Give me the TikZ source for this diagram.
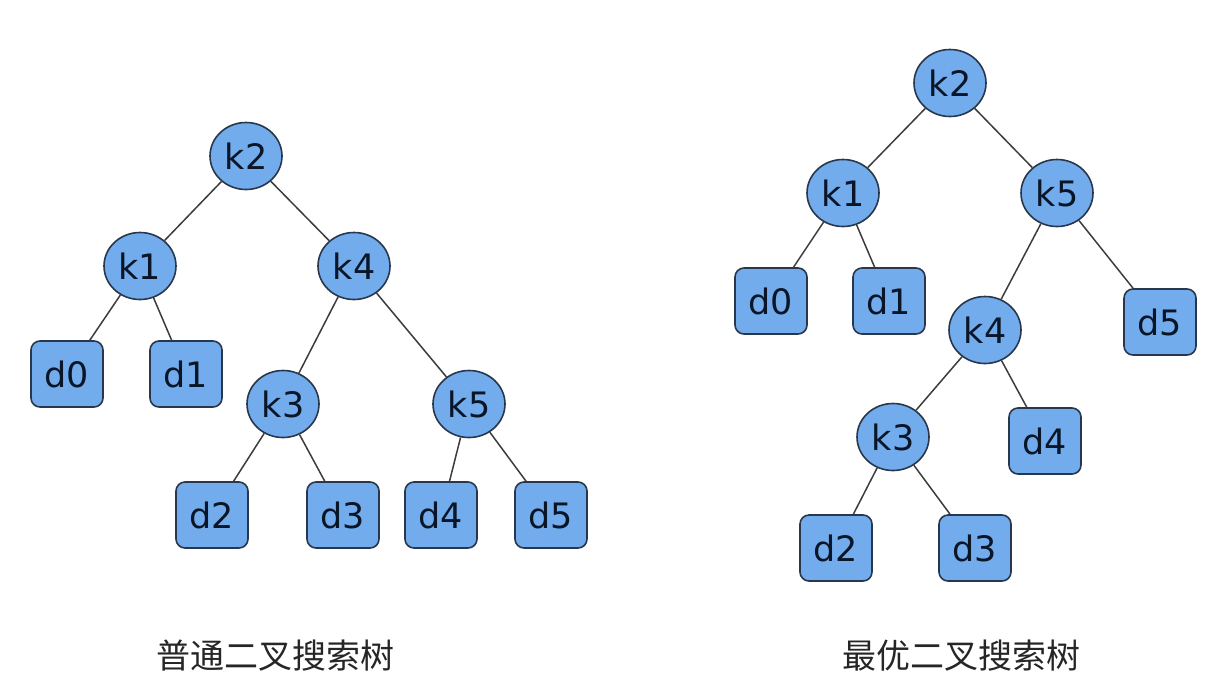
\documentclass[tikz,border=0pt]{standalone}
\usepackage{fontspec}
\setmainfont{DejaVu Sans}
\newfontfamily\cjk{Noto Sans CJK SC}
\usetikzlibrary{shapes.geometric}
\definecolor{nodefill}{RGB}{114,172,236}
\definecolor{nodeedge}{RGB}{40,55,75}
\definecolor{nodetext}{RGB}{10,22,40}
\definecolor{edgecol}{RGB}{60,60,60}
\tikzset{
  keynode/.style={ellipse, draw=nodeedge, fill=nodefill, line width=1.6pt,
    minimum width=72pt, minimum height=67pt, inner sep=0pt,
    text=nodetext, font=\fontsize{35}{40}\selectfont},
  leafnode/.style={rectangle, rounded corners=9pt, draw=nodeedge, fill=nodefill, line width=1.6pt,
    minimum width=72pt, minimum height=66pt, inner sep=0pt,
    text=nodetext, font=\fontsize{35}{40}\selectfont},
  link/.style={draw=edgecol, line width=1.5pt},
  caption/.style={font=\cjk\fontsize{34}{40}\selectfont, text=black!85}
}
\begin{document}
\begin{tikzpicture}[x=1pt,y=-1pt]
\useasboundingbox (0,0) rectangle (1228,681);
% left tree
\node[keynode] (Lk2) at (246,156) {k2};
\node[keynode] (Lk1) at (140,266) {k1};
\node[keynode] (Lk4) at (354,266) {k4};
\node[keynode] (Lk3) at (283,404) {k3};
\node[keynode] (Lk5) at (469,404) {k5};
\node[leafnode] (Ld0) at (67,374) {d0};
\node[leafnode] (Ld1) at (186,374) {d1};
\node[leafnode] (Ld2) at (212,515) {d2};
\node[leafnode] (Ld3) at (343,515) {d3};
\node[leafnode] (Ld4) at (441,515) {d4};
\node[leafnode] (Ld5) at (551,515) {d5};
\draw[link] (Lk2) -- (Lk1);
\draw[link] (Lk2) -- (Lk4);
\draw[link] (Lk1) -- (Ld0);
\draw[link] (Lk1) -- (Ld1);
\draw[link] (Lk4) -- (Lk3);
\draw[link] (Lk4) -- (Lk5);
\draw[link] (Lk3) -- (Ld2);
\draw[link] (Lk3) -- (Ld3);
\draw[link] (Lk5) -- (Ld4);
\draw[link] (Lk5) -- (Ld5);
% right tree
\node[keynode] (Rk2) at (950,83) {k2};
\node[keynode] (Rk1) at (843,193) {k1};
\node[keynode] (Rk5) at (1057,193) {k5};
\node[keynode] (Rk4) at (985,330) {k4};
\node[keynode] (Rk3) at (893,437) {k3};
\node[leafnode] (Rd0) at (771,301) {d0};
\node[leafnode] (Rd1) at (889,301) {d1};
\node[leafnode] (Rd5) at (1160,322) {d5};
\node[leafnode] (Rd4) at (1045,441) {d4};
\node[leafnode] (Rd2) at (836,548) {d2};
\node[leafnode] (Rd3) at (975,548) {d3};
\draw[link] (Rk2) -- (Rk1);
\draw[link] (Rk2) -- (Rk5);
\draw[link] (Rk1) -- (Rd0);
\draw[link] (Rk1) -- (Rd1);
\draw[link] (Rk5) -- (Rk4);
\draw[link] (Rk5) -- (Rd5);
\draw[link] (Rk4) -- (Rk3);
\draw[link] (Rk4) -- (Rd4);
\draw[link] (Rk3) -- (Rd2);
\draw[link] (Rk3) -- (Rd3);
% captions
\node[caption] (capL) at (275,656) {普通二叉搜索树};
\node[caption] (capR) at (961,656) {最优二叉搜索树};
\end{tikzpicture}
\end{document}
